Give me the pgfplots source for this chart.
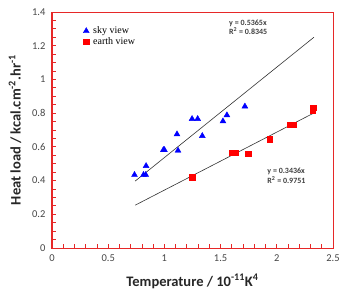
\documentclass[border=0pt]{standalone}
\usepackage{fontspec}
\setmainfont{Carlito}
\newfontfamily\seriffont{Liberation Serif}
\usepackage{pgfplots}
\pgfplotsset{compat=1.18}
\definecolor{axred}{RGB}{230,40,40}
\definecolor{tickgray}{RGB}{70,70,70}
\begin{document}
\begin{tikzpicture}
\begin{axis}[
  name=ax,
  scale only axis,
  width=281pt, height=236pt,
  xmin=0, xmax=2.5, ymin=0, ymax=1.4,
  xtick={0,0.5,...,2.5}, ytick={0,0.2,...,1.4},
  minor x tick num=4, minor y tick num=3,
  axis line style={axred, line width=1pt},
  every tick/.style={axred, line width=0.8pt},
  major tick length=4pt, minor tick length=4pt,
  tick align=inside,
  xtick pos=bottom, ytick pos=left,
  /pgf/number format/assume math mode=true,
  ticklabel style={font=\fontsize{10.5}{12}\selectfont, text=tickgray},
  xticklabel style={yshift=-3pt},
  yticklabel style={xshift=-3pt},
  xlabel={Temperature / 10\textsuperscript{-11}K\textsuperscript{4}},
  ylabel={Heat load / kcal.cm\textsuperscript{-2}.hr\textsuperscript{-1}},
  label style={font=\fontsize{14.5}{16}\selectfont\bfseries, text=black!85},
  xlabel style={yshift=-6pt},
  ylabel style={yshift=4pt},
  legend style={at={(0.1,0.955)}, anchor=north west, draw=none, fill=none,
    font=\seriffont\fontsize{10}{11}\selectfont, row sep=-2pt,
    nodes={inner xsep=4pt}},
  legend cell align=left,
  legend image post style={xshift=-2pt},
]
\addplot[only marks, mark=triangle*, mark size=3.4pt, color=blue, mark options={fill=blue}] coordinates {
(0.734,0.434) (0.814,0.434) (0.834,0.434) (0.837,0.487) (0.991,0.582) (1.000,0.582)
(1.112,0.675) (1.121,0.578) (1.246,0.766) (1.296,0.766) (1.337,0.665) (1.521,0.752)
(1.556,0.788) (1.716,0.840)
};
\addlegendentry{sky view}
\addplot[only marks, mark=square*, mark size=2.7pt, color=red, mark options={fill=red}] coordinates {
(1.246,0.420) (1.598,0.564) (1.630,0.564) (1.746,0.560) (1.935,0.646) (2.118,0.731)
(2.145,0.731) (2.317,0.814) (2.325,0.834)
};
\addlegendentry{earth view}
\addplot[black!80, line width=0.6pt, forget plot] coordinates {(0.74,0.397) (2.33,1.250)};
\addplot[black!80, line width=0.6pt, forget plot] coordinates {(0.74,0.254) (2.33,0.801)};
\node[anchor=north west, align=left, font=\fontsize{8}{9.5}\selectfont\bfseries, text=black!75] at (axis cs:1.545,1.375) {y = 0.5365x\\R\textsuperscript{2} = 0.8345};
\node[anchor=north west, align=left, font=\fontsize{8}{9.5}\selectfont\bfseries, text=black!75] at (axis cs:1.885,0.495) {y = 0.3436x\\R\textsuperscript{2} = 0.9751};
\end{axis}
\pgfresetboundingbox
\path ([xshift=-52pt,yshift=-42pt]ax.south west) rectangle ([xshift=11pt,yshift=12pt]ax.north east);
\end{tikzpicture}
\end{document}
